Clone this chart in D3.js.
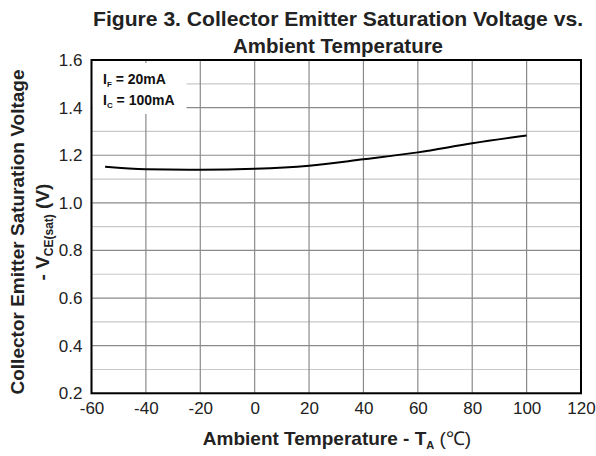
<!DOCTYPE html>
<html><head><meta charset="utf-8">
<script src="https://cdn.jsdelivr.net/npm/d3@7"></script>
<style>body{margin:0;background:#fff}svg{display:block}text{font-family:"Liberation Sans",Arial,sans-serif}</style>
</head><body>
<svg id="c" width="596" height="456"></svg>
<script>
const temps = [-55, -40, -20, 0, 20, 40, 60, 80, 100];
const vce = [1.152, 1.141, 1.139, 1.143, 1.156, 1.183, 1.212, 1.25, 1.283];
const xTicks = [-60, -40, -20, 0, 20, 40, 60, 80, 100, 120];
const yTicks = [0.2, 0.4, 0.6, 0.8, 1.0, 1.2, 1.4, 1.6];
const yMinor = [0.3, 0.5, 0.7, 0.9, 1.1, 1.3, 1.5];

const svg = d3.select("#c");
const L = 91.5, R = 581, T = 60, B = 393.3;
const x = d3.scaleLinear().domain([-60, 120]).range([L, R]);
const y = d3.scaleLinear().domain([0.2, 1.6]).range([B, T]);

svg.append("g").selectAll("line").data(yMinor).join("line")
  .attr("x1", L).attr("x2", R).attr("y1", d => y(d)).attr("y2", d => y(d))
  .attr("stroke", "#c8c8c8").attr("stroke-width", 1.2);
svg.append("g").selectAll("line").data(yTicks).join("line")
  .attr("x1", L).attr("x2", R).attr("y1", d => y(d)).attr("y2", d => y(d))
  .attr("stroke", "#8a8a8a").attr("stroke-width", 1.2);
svg.append("g").selectAll("line").data(xTicks).join("line")
  .attr("x1", d => x(d)).attr("x2", d => x(d)).attr("y1", T).attr("y2", B)
  .attr("stroke", "#8a8a8a").attr("stroke-width", 1.2);

svg.append("rect").attr("x", L + 1).attr("y", T + 3).attr("width", 94).attr("height", 51).attr("fill", "#fff");

svg.append("path").datum(temps.map((t, i) => [t, vce[i]]))
  .attr("d", d3.line().x(d => x(d[0])).y(d => y(d[1])).curve(d3.curveMonotoneX))
  .attr("fill", "none").attr("stroke", "#000").attr("stroke-width", 2);

svg.append("rect").attr("x", L).attr("y", T).attr("width", R - L).attr("height", B - T)
  .attr("fill", "none").attr("stroke", "#000").attr("stroke-width", 2);

const xa = d3.axisBottom(x).tickValues(xTicks).tickSize(0).tickPadding(9).tickFormat(d => String(d));
const gx = svg.append("g").attr("transform", `translate(0,${B})`).call(xa);
const ya = d3.axisLeft(y).tickValues(yTicks).tickSize(0).tickPadding(9).tickFormat(d3.format(".1f"));
const gy = svg.append("g").attr("transform", `translate(${L},0)`).call(ya);
[gx, gy].forEach(g => {
  g.select(".domain").remove();
  g.selectAll("text").attr("font-size", 17).attr("fill", "#222").attr("font-family", "Liberation Sans, Arial, sans-serif");
});

const ann = svg.append("g").attr("font-weight", "bold").attr("font-size", 14).attr("fill", "#111");
const a1 = ann.append("text").attr("x", 103).attr("y", 84);
a1.append("tspan").text("I");
a1.append("tspan").text("F").attr("font-size", 8).attr("dy", 3);
a1.append("tspan").text(" = 20mA").attr("dy", -3);
const a2 = ann.append("text").attr("x", 103).attr("y", 105);
a2.append("tspan").text("I");
a2.append("tspan").text("C").attr("font-size", 8).attr("dy", 3);
a2.append("tspan").text(" = 100mA").attr("dy", -3);

const tt = svg.append("g").attr("font-weight", "bold").attr("font-size", 20.5).attr("fill", "#222").attr("text-anchor", "middle");
tt.append("text").attr("x", 338).attr("y", 26).attr("textLength", 490).attr("lengthAdjust", "spacingAndGlyphs")
  .text("Figure 3. Collector Emitter Saturation Voltage vs.");
tt.append("text").attr("x", 338).attr("y", 53).attr("textLength", 210).attr("lengthAdjust", "spacingAndGlyphs")
  .text("Ambient Temperature");

const xt = svg.append("text").attr("x", 337).attr("y", 445).attr("text-anchor", "middle")
  .attr("font-weight", "bold").attr("font-size", 19).attr("fill", "#222");
xt.append("tspan").text("Ambient Temperature - T");
xt.append("tspan").text("A").attr("font-size", 11).attr("dy", 4);
xt.append("tspan").text(" (\u2103)").attr("dy", -4).attr("font-weight", "normal");

const yt = svg.append("g").attr("transform", "translate(0,232) rotate(-90)")
  .attr("font-weight", "bold").attr("font-size", 19).attr("fill", "#222").attr("text-anchor", "middle");
yt.append("text").attr("x", 0).attr("y", 24).attr("textLength", 325).attr("lengthAdjust", "spacingAndGlyphs")
  .text("Collector Emitter Saturation Voltage");
const y2 = yt.append("text").attr("x", 0).attr("y", 49);
y2.append("tspan").text("- V");
y2.append("tspan").text("CE(sat)").attr("font-size", 12).attr("dy", 4);
y2.append("tspan").text(" (V)").attr("dy", -4);
</script>
</body></html>
